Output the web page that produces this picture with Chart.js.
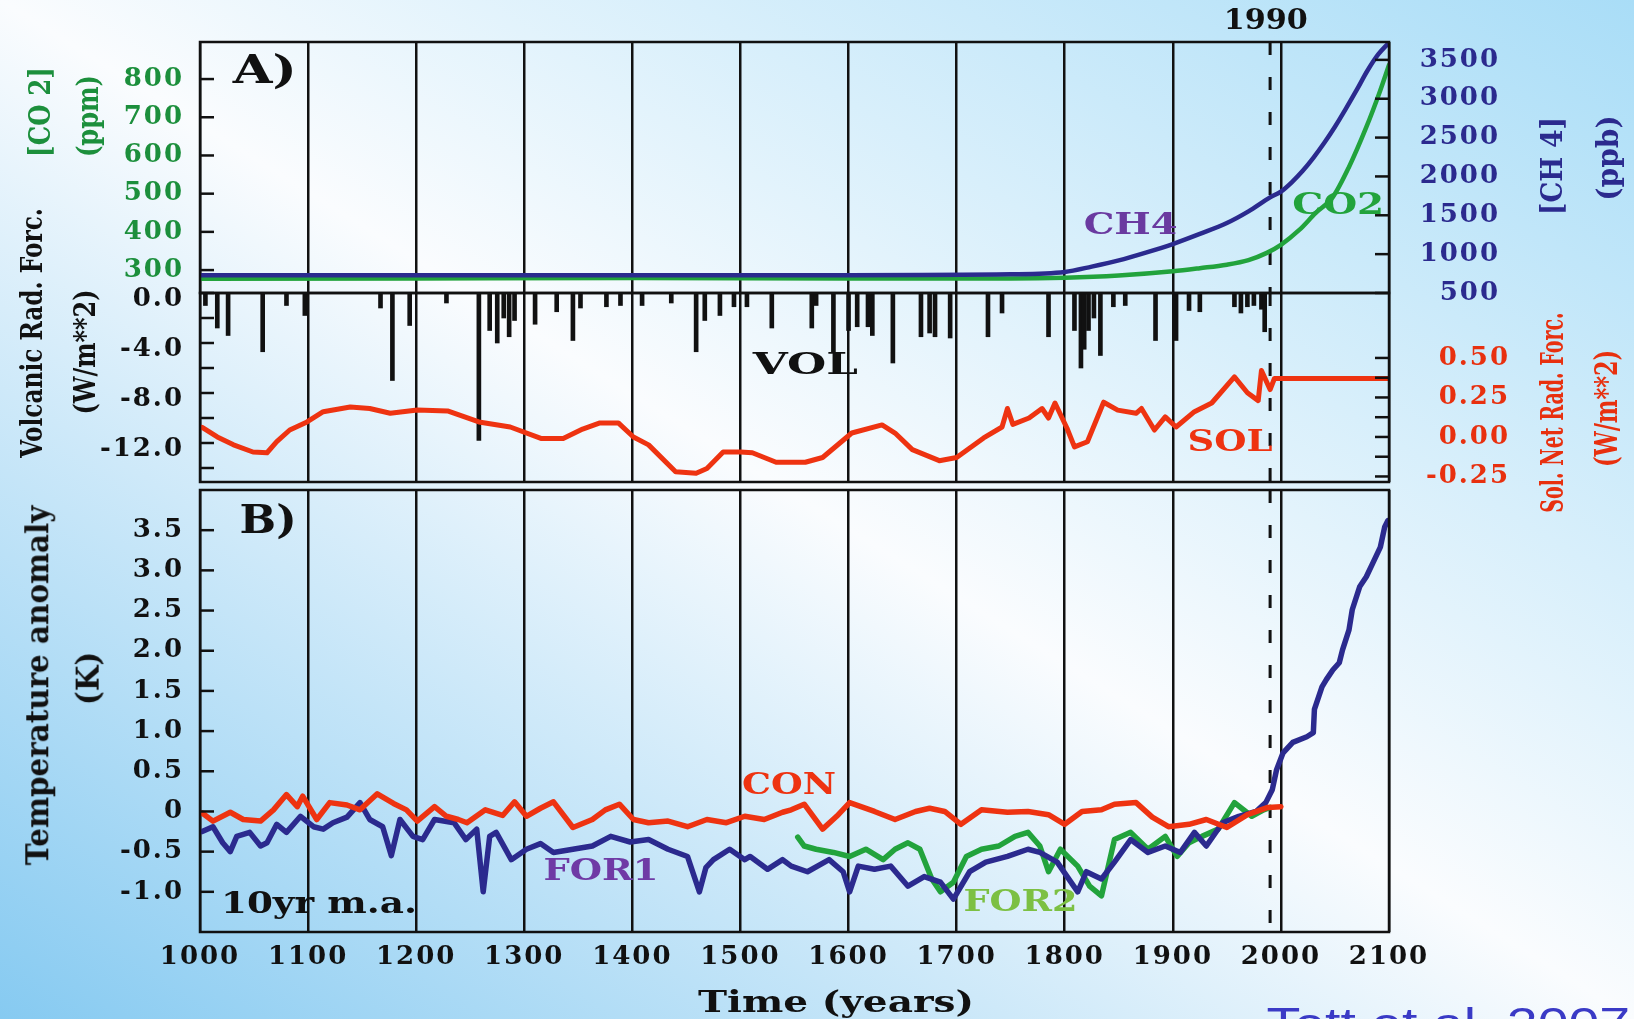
<!DOCTYPE html>
<html><head><meta charset="utf-8">
<script src="https://cdn.jsdelivr.net/npm/chart.js@4.4.0/dist/chart.umd.min.js"></script>
<style>
html,body{margin:0;padding:0;}
body{width:1634px;height:1019px;overflow:hidden;position:relative;
background:linear-gradient(to bottom left,#a9ddf7 0%,#fafcfe 50%,#86caf1 100%);}
canvas{position:absolute;left:0;top:0;}
.t{position:absolute;white-space:nowrap;font-family:'DejaVu Serif',serif;font-weight:bold;line-height:1;}
</style></head><body>
<canvas id="c1" width="1634" height="1019"></canvas>
<canvas id="c2" width="1634" height="1019"></canvas>
<canvas id="c3" width="1634" height="1019"></canvas>
<script>
// ---------------- data ----------------
const YEAR_TICKS = [1000,1100,1200,1300,1400,1500,1600,1700,1800,1900,2000,2100];
const EVENT_YEAR = 1990;

const CO2_YEARS = [1000,1200,1400,1600,1750,1800,1850,1900,1925,1950,1970,1987,2000,2017,2032,2048,2063,2079,2091,2100];
const CO2_PPM   = [277,278,279,278,278,280,286,297,305,314,326,345,366,405,449,491,570,674,763,837];

const CH4_YEARS = [1000,1200,1400,1600,1750,1800,1825,1850,1875,1900,1925,1950,1970,1990,2000,2010,2020,2030,2040,2050,2060,2070,2080,2090,2100];
const CH4_PPB   = [730,730,730,730,740,770,840,920,1020,1130,1260,1400,1550,1730,1805,1925,2070,2240,2430,2640,2870,3110,3360,3570,3722];

const VOL_YEARS   = [1005,1016,1026,1058,1080,1097,1167,1178,1194,1228,1258,1268,1275,1281,1286,1291,1310,1330,1345,1352,1376,1389,1409,1436,1459,1467,1481,1494,1506,1529,1566,1570,1586,1600,1608,1618,1622,1641,1667,1675,1680,1694,1729,1742,1785,1809,1815,1818,1822,1827,1833,1845,1856,1884,1903,1915,1925,1957,1963,1969,1975,1982,1985];
const VOL_FORCING = [-1.0,-2.8,-3.4,-4.7,-1.0,-1.8,-1.2,-7.0,-2.6,-0.8,-11.8,-3.0,-4.0,-2.0,-3.5,-2.2,-2.5,-1.5,-3.8,-1.2,-1.1,-1.0,-1.0,-0.8,-4.7,-2.2,-1.8,-1.1,-1.1,-2.8,-2.8,-1.0,-4.7,-3.0,-2.7,-2.7,-3.4,-5.6,-3.5,-3.2,-3.5,-3.6,-3.5,-1.6,-3.5,-3.0,-6.0,-4.5,-3.0,-2.0,-5.0,-1.1,-1.0,-3.8,-3.8,-1.4,-1.5,-1.1,-1.6,-1.1,-1.0,-1.3,-3.1];

const SOL_YEARS   = [1002,1016,1031,1049,1062,1071,1083,1099,1114,1139,1157,1176,1201,1229,1258,1287,1316,1336,1354,1370,1387,1401,1415,1440,1459,1469,1484,1500,1511,1533,1560,1576,1603,1631,1643,1659,1684,1700,1725,1742,1747,1752,1767,1779,1785,1791,1802,1809,1821,1836,1849,1866,1871,1883,1893,1903,1920,1936,1957,1969,1979,1982,1990,1994,2100];
const SOL_FORCING = [0.06,0.00,-0.05,-0.095,-0.10,-0.03,0.044,0.095,0.16,0.19,0.18,0.15,0.17,0.165,0.095,0.063,-0.01,-0.01,0.05,0.089,0.089,0.0,-0.05,-0.22,-0.23,-0.20,-0.095,-0.095,-0.10,-0.16,-0.16,-0.13,0.025,0.076,0.025,-0.08,-0.15,-0.13,-0.006,0.063,0.18,0.08,0.12,0.18,0.12,0.215,0.057,-0.063,-0.03,0.22,0.17,0.15,0.18,0.044,0.127,0.063,0.16,0.215,0.38,0.28,0.23,0.42,0.30,0.37,0.37];

const CON_YEARS = [1002,1012,1028,1040,1056,1068,1080,1090,1095,1108,1120,1136,1148,1164,1179,1191,1201,1217,1228,1239,1247,1264,1280,1291,1302,1315,1327,1345,1363,1375,1388,1401,1415,1433,1451,1469,1487,1504,1522,1539,1547,1559,1576,1589,1601,1624,1643,1662,1675,1689,1704,1723,1747,1766,1785,1800,1816,1834,1846,1866,1881,1896,1915,1931,1950,1969,1988,2000];
const CON_TEMP  = [-0.02,-0.12,-0.01,-0.10,-0.12,0.02,0.21,0.06,0.19,-0.10,0.11,0.08,0.02,0.22,0.10,0.02,-0.12,0.06,-0.06,-0.10,-0.14,0.02,-0.05,0.12,-0.06,0.04,0.12,-0.20,-0.10,0.02,0.09,-0.10,-0.14,-0.12,-0.19,-0.10,-0.14,-0.06,-0.10,-0.01,0.02,0.09,-0.22,-0.06,0.11,0.0,-0.10,0.0,0.04,0.0,-0.16,0.02,-0.01,0.0,-0.04,-0.16,0.0,0.02,0.09,0.11,-0.07,-0.19,-0.16,-0.10,-0.20,-0.04,0.05,0.06];

const FOR1_YEARS = [1002,1012,1021,1028,1034,1046,1056,1062,1071,1080,1093,1105,1114,1123,1136,1148,1157,1169,1177,1185,1197,1206,1217,1235,1246,1256,1262,1268,1274,1288,1302,1315,1327,1345,1363,1380,1398,1415,1433,1451,1462,1468,1475,1490,1504,1509,1525,1539,1547,1562,1582,1595,1601,1609,1624,1639,1655,1670,1685,1697,1712,1727,1747,1766,1777,1793,1812,1820,1834,1846,1861,1877,1893,1907,1920,1931,1946,1961,1977,1986,1992,1996,2002,2011,2024,2030,2031,2038,2042,2048,2054,2057,2063,2066,2073,2079,2085,2092,2096,2099];
const FOR1_TEMP  = [-0.25,-0.19,-0.39,-0.50,-0.31,-0.26,-0.43,-0.39,-0.16,-0.26,-0.06,-0.19,-0.22,-0.14,-0.07,0.11,-0.10,-0.19,-0.55,-0.10,-0.31,-0.35,-0.10,-0.14,-0.35,-0.22,-1.00,-0.31,-0.26,-0.60,-0.47,-0.40,-0.51,-0.47,-0.43,-0.31,-0.38,-0.35,-0.47,-0.56,-1.00,-0.70,-0.60,-0.47,-0.60,-0.56,-0.72,-0.60,-0.68,-0.75,-0.60,-0.75,-1.00,-0.68,-0.72,-0.68,-0.93,-0.81,-0.88,-1.09,-0.75,-0.63,-0.56,-0.47,-0.51,-0.63,-1.00,-0.75,-0.84,-0.63,-0.35,-0.51,-0.43,-0.51,-0.26,-0.43,-0.14,-0.06,0.0,0.11,0.27,0.52,0.73,0.86,0.93,0.98,1.27,1.55,1.64,1.76,1.85,2.01,2.26,2.51,2.80,2.92,3.09,3.29,3.54,3.62];

const FOR2_YEARS = [1553,1559,1570,1586,1601,1616,1632,1643,1655,1666,1677,1685,1697,1709,1723,1739,1754,1766,1777,1785,1796,1812,1823,1834,1846,1861,1877,1893,1904,1915,1927,1942,1957,1973,1984,1990];
const FOR2_TEMP  = [-0.32,-0.43,-0.47,-0.51,-0.56,-0.47,-0.60,-0.47,-0.39,-0.47,-0.84,-1.00,-0.88,-0.56,-0.47,-0.43,-0.31,-0.26,-0.43,-0.75,-0.47,-0.68,-0.93,-1.05,-0.35,-0.26,-0.47,-0.31,-0.56,-0.39,-0.31,-0.22,0.11,-0.06,0.02,0.05];

const CO2_TICKS = [300,400,500,600,700,800];
const CO2_TICK_LABELS = ['300','400','500','600','700','800'];
const CH4_TICKS = [500,1000,1500,2000,2500,3000,3500];
const CH4_TICK_LABELS = ['500','1000','1500','2000','2500','3000','3500'];
const VOL_TICKS = [0,-4,-8,-12];
const VOL_TICK_LABELS = ['0.0','-4.0','-8.0','-12.0'];
const VOL_MINOR = [0,-2,-4,-6,-8,-10,-12,-14];
const SOL_TICKS = [0.5,0.25,0,-0.25];
const SOL_TICK_LABELS = ['0.50','0.25','0.00','-0.25'];
const SOL_MINOR = [0.5,0.375,0.25,0.125,0,-0.125,-0.25];
const TEMP_TICKS = [3.5,3.0,2.5,2.0,1.5,1.0,0.5,0,-0.5,-1.0];
const TEMP_TICK_LABELS = ['3.5','3.0','2.5','2.0','1.5','1.0','0.5','0','-0.5','-1.0'];

// ---------------- helpers ----------------
const pts = (xs, ys) => xs.map((x, i) => ({x, y: ys[i]}));
const SERIF = "'DejaVu Serif', serif";
const tickFont = {family: SERIF, size: 26, weight: 'bold'};
const INK = '#111111';

const spacing = {
  id: 'spacing',
  beforeUpdate(c) { c.ctx.letterSpacing = '2px'; },
  beforeDraw(c) { c.ctx.letterSpacing = '2px'; }
};

function framePlugin(cfg) {
  return {
    id: 'frame',
    beforeDatasetsDraw(chart) {
      const {ctx, chartArea: a, scales} = chart;
      const x = scales.x.getPixelForValue(EVENT_YEAR);
      ctx.save();
      ctx.strokeStyle = INK; ctx.lineWidth = 3; ctx.setLineDash([13, 22]);
      ctx.beginPath(); ctx.moveTo(x, a.top); ctx.lineTo(x, a.bottom); ctx.stroke();
      ctx.restore();
    },
    afterDraw(chart) {
      const {ctx, chartArea: a, scales} = chart;
      ctx.save();
      ctx.strokeStyle = INK; ctx.lineWidth = 2.5; ctx.setLineDash([]);
      (cfg.ticks || []).forEach(t => {
        const s = scales[t.axis];
        t.values.forEach(v => {
          const y = s.getPixelForValue(v);
          const x0 = t.side === 'left' ? a.left : a.right;
          const x1 = t.side === 'left' ? a.left + 14 : a.right - 14;
          ctx.beginPath(); ctx.moveTo(x0, y); ctx.lineTo(x1, y); ctx.stroke();
        });
      });
      ctx.strokeRect(a.left, a.top, a.width, a.height);
      ctx.letterSpacing = '0px';
      (cfg.labels || []).forEach(l => {
        const x = scales.x.getPixelForValue(l.x);
        const y = scales[l.axis].getPixelForValue(l.y);
        ctx.save();
        ctx.font = `bold ${l.size}px ${SERIF}`;
        const w = ctx.measureText(l.text).width;
        ctx.translate(x, y); ctx.scale(l.w / w, 1);
        ctx.fillStyle = l.color; ctx.textAlign = 'center'; ctx.textBaseline = 'middle';
        ctx.fillText(l.text, 0, 0);
        ctx.restore();
      });
      ctx.restore();
    }
  };
}

function xAxis(showLabels) {
  return {
    type: 'linear', min: 1000, max: 2100, offset: false,
    afterBuildTicks: s => { s.ticks = YEAR_TICKS.map(v => ({value: v})); },
    afterFit: s => { s.height = showLabels ? 87 : 0; },
    grid: {color: INK, lineWidth: 2.5, drawTicks: false, offset: false},
    border: {display: false},
    ticks: {display: showLabels, autoSkip: false, maxRotation: 0, color: INK, font: tickFont, padding: 10,
      callback: (v, i) => String(YEAR_TICKS[i])}
  };
}

function yAxis(pos, min, max, ticks, labels, color, width, labelOffset) {
  return {
    type: 'linear', position: pos, min, max,
    afterBuildTicks: s => { s.ticks = ticks.map(v => ({value: v})); },
    afterFit: s => { s.width = width; },
    grid: {display: false}, border: {display: false},
    ticks: {autoSkip: false, color, font: tickFont, padding: 8, labelOffset: labelOffset || 0,
      crossAlign: pos === 'left' ? 'near' : 'far',
      callback: (v, i) => labels[i]}
  };
}

const common = {
  responsive: false, animation: false, events: [],
  plugins: {legend: {display: false}, tooltip: {enabled: false}},
  elements: {point: {radius: 0}, line: {borderJoinStyle: 'round', borderCapStyle: 'round'}}
};

// ---------------- panel A (CO2 / CH4) ----------------
new Chart(document.getElementById('c1'), {
  type: 'line',
  data: {datasets: [
    {label: 'CH4', data: pts(CH4_YEARS, CH4_PPB), yAxisID: 'yCH4', borderColor: '#2b2a8e', borderWidth: 4.5, cubicInterpolationMode: 'monotone', pointRadius: 0},
    {label: 'CO2', data: pts(CO2_YEARS, CO2_PPM), yAxisID: 'yCO2', borderColor: '#22a33c', borderWidth: 4.5, cubicInterpolationMode: 'monotone', pointRadius: 0}
  ]},
  options: Object.assign({}, common, {
    layout: {padding: {left: 0, right: 134, top: 42, bottom: 726}},
    scales: {
      x: xAxis(false),
      yCO2: yAxis('left', 240, 897, CO2_TICKS, CO2_TICK_LABELS, '#1c8f3c', 200),
      yCH4: yAxis('right', 500, 3730, CH4_TICKS, CH4_TICK_LABELS, '#2b2a8e', 111)
    }
  }),
  plugins: [spacing, framePlugin({
    ticks: [{axis: 'yCO2', side: 'left', values: CO2_TICKS}, {axis: 'yCH4', side: 'right', values: CH4_TICKS}],
    labels: [
      {text: 'A)', x: 1060, axis: 'yCO2', y: 818, size: 40, w: 64, color: INK},
      {text: 'CH4', x: 1861, axis: 'yCH4', y: 1363, size: 30, w: 94, color: '#6a3aa0'},
      {text: 'CO2', x: 2053, axis: 'yCO2', y: 467, size: 30, w: 92, color: '#22a33c'},
      {text: '1990', x: 1986, axis: 'yCO2', y: 949, size: 27, w: 84, color: INK}
    ]
  })]
});

// ---------------- panel A lower (VOL / SOL) ----------------
new Chart(document.getElementById('c2'), {
  type: 'line',
  data: {datasets: [
    {label: 'SOL', data: pts(SOL_YEARS, SOL_FORCING), yAxisID: 'ySOL', borderColor: '#ee3311', borderWidth: 5, pointRadius: 0, tension: 0},
    {type: 'bar', label: 'VOL', data: pts(VOL_YEARS, VOL_FORCING), yAxisID: 'yVOL', backgroundColor: INK, barThickness: 4}
  ]},
  options: Object.assign({}, common, {
    layout: {padding: {left: 0, right: 124, top: 293, bottom: 537}},
    scales: {
      x: xAxis(false),
      yVOL: yAxis('left', -15.12, 0, VOL_TICKS, VOL_TICK_LABELS, INK, 200, 6),
      ySOL: yAxis('right', -0.285, 0.911, SOL_TICKS, SOL_TICK_LABELS, '#e8300f', 121)
    }
  }),
  plugins: [spacing, framePlugin({
    ticks: [{axis: 'yVOL', side: 'left', values: VOL_MINOR}, {axis: 'ySOL', side: 'right', values: SOL_MINOR}],
    labels: [
      {text: 'VOL', x: 1560, axis: 'yVOL', y: -5.84, size: 30, w: 105, color: INK},
      {text: 'SOL', x: 1953, axis: 'ySOL', y: -0.04, size: 30, w: 85, color: '#ee3311'}
    ]
  })]
});

// ---------------- panel B (temperature) ----------------
new Chart(document.getElementById('c3'), {
  type: 'line',
  data: {datasets: [
    {label: 'CON', data: pts(CON_YEARS, CON_TEMP), yAxisID: 'yT', borderColor: '#ee3311', borderWidth: 5.5, pointRadius: 0, order: 0},
    {label: 'FOR1', data: pts(FOR1_YEARS, FOR1_TEMP), yAxisID: 'yT', borderColor: '#2b2a8e', borderWidth: 5.5, pointRadius: 0, order: 1},
    {label: 'FOR2', data: pts(FOR2_YEARS, FOR2_TEMP), yAxisID: 'yT', borderColor: '#22a33c', borderWidth: 5.5, pointRadius: 0, order: 2}
  ]},
  options: Object.assign({}, common, {
    layout: {padding: {left: 0, right: 245, top: 490, bottom: 0}},
    scales: {
      x: xAxis(true),
      yT: yAxis('left', -1.5, 4.0, TEMP_TICKS, TEMP_TICK_LABELS, INK, 200)
    }
  }),
  plugins: [spacing, framePlugin({
    ticks: [{axis: 'yT', side: 'left', values: TEMP_TICKS}],
    labels: [
      {text: 'B)', x: 1063, axis: 'yT', y: 3.59, size: 40, w: 57, color: INK},
      {text: 'CON', x: 1545, axis: 'yT', y: 0.31, size: 30, w: 94, color: '#ee3311'},
      {text: 'FOR1', x: 1371, axis: 'yT', y: -0.76, size: 30, w: 115, color: '#6f3aa5'},
      {text: 'FOR2', x: 1759, axis: 'yT', y: -1.14, size: 30, w: 114, color: '#7cc043'},
      {text: '10yr m.a.', x: 1110, axis: 'yT', y: -1.17, size: 30, w: 196, color: INK}
    ]
  })]
});

// ---------------- axis titles & credits ----------------
const TITLES = [
  {text: '[CO 2]', cx: 40, cy: 112, len: 90, size: 30, color: '#1c8f3c', rot: -90},
  {text: '(ppm)', cx: 88, cy: 116, len: 82, size: 30, color: '#1c8f3c', rot: -90},
  {text: 'Volcanic Rad. Forc.', cx: 32, cy: 333, len: 250, size: 30, color: INK, rot: -90},
  {text: '(W/m**2)', cx: 84, cy: 352, len: 125, size: 30, color: INK, rot: -90},
  {text: 'Temperature anomaly', cx: 38, cy: 685, len: 360, size: 31, color: INK, rot: -90},
  {text: '(K)', cx: 88, cy: 678, len: 53, size: 31, color: INK, rot: -90},
  {text: '[CH 4]', cx: 1552, cy: 166, len: 98, size: 30, color: '#2b2a8e', rot: -90},
  {text: '(ppb)', cx: 1607, cy: 158, len: 85, size: 30, color: '#2b2a8e', rot: -90},
  {text: 'Sol. Net Rad. Forc.', cx: 1552, cy: 412, len: 200, size: 31, color: '#e8300f', rot: -90},
  {text: '(W/m**2)', cx: 1606, cy: 408, len: 117, size: 31, color: '#e8300f', rot: -90},
  {text: 'Time (years)', cx: 836, cy: 1002, len: 276, size: 30, color: INK, rot: 0},
  {text: 'Tett et al. 2007', cx: 1448, cy: 1024, len: 364, size: 44, color: '#3a3ac6', rot: 0, family: "'Liberation Sans', Arial, sans-serif", weight: 'normal'}
];
TITLES.forEach(t => {
  const d = document.createElement('div');
  d.className = 't'; d.textContent = t.text;
  d.style.fontSize = t.size + 'px'; d.style.color = t.color;
  if (t.family) d.style.fontFamily = t.family;
  if (t.weight) d.style.fontWeight = t.weight;
  document.body.appendChild(d);
  const w = d.offsetWidth, h = d.offsetHeight;
  d.style.left = (t.cx - w / 2) + 'px';
  d.style.top = (t.cy - h / 2) + 'px';
  d.style.transform = `rotate(${t.rot}deg) scaleX(${t.len / w})`;
});
</script>
</body></html>
